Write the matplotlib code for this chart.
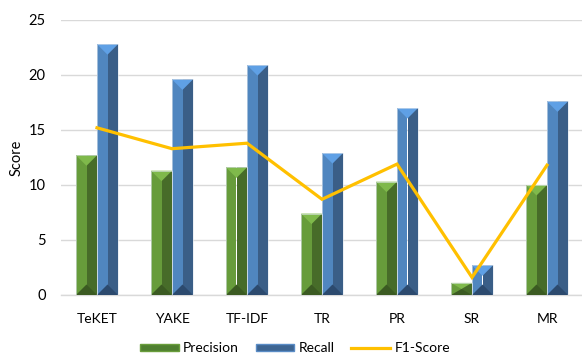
import matplotlib
matplotlib.use("Agg")
import matplotlib.pyplot as plt
from matplotlib.patches import Polygon, Rectangle
from matplotlib.lines import Line2D
import numpy as np

plt.rcParams['font.family'] = ['Lato', 'DejaVu Sans']

methods = ["TeKET", "YAKE", "TF-IDF", "TR", "PR", "SR", "MR"]
precision = [12.7, 11.3, 11.6, 7.4, 10.3, 1.1, 10.0]
recall = [22.8, 19.6, 20.9, 12.9, 17.0, 2.7, 17.6]
f1_score = [15.2, 13.3, 13.8, 8.7, 11.9, 1.6, 11.8]
y_ticks = [0, 5, 10, 15, 20, 25]

W, H = 582, 356
fig = plt.figure(figsize=(W / 100, H / 100), dpi=100)
ax_left, ax_right, ax_bottom, ax_top = 61, 584.5, 295, 20
ax = fig.add_axes([ax_left / W, 1 - ax_bottom / H,
                   (ax_right - ax_left) / W, (ax_bottom - ax_top) / H])

x = np.arange(len(methods))
xmin, xmax = -0.48, len(methods) - 0.5
ax.set_xlim(xmin, xmax)
ax.set_ylim(0, 25)

bw = 0.28
# pixel scales used to give the bevels a 45-degree look
px_per_x = (ax_right - ax_left) / (xmax - xmin)
px_per_y = (ax_bottom - ax_top) / 25.0

styles = {
    "Precision": dict(light="#679c3b", dark="#476c29", top="#7fb94b", bottom="#3b5a22"),
    "Recall": dict(light="#5086bf", dark="#3a5e87", top="#5fa0e5", bottom="#2c4a6e"),
}


def bevel_bars(centers, values, st):
    half = bw / 2
    ax.bar(centers - half / 2, values, width=half, color=st["light"],
           edgecolor="none", zorder=2)
    ax.bar(centers + half / 2, values, width=half, color=st["dark"],
           edgecolor="none", zorder=2)
    depth = half * px_per_x / px_per_y
    for c, v in zip(centers, values):
        d = min(depth, v / 2)
        ax.add_patch(Polygon([[c - half, v], [c + half, v], [c, v - d]],
                             closed=True, facecolor=st["top"], edgecolor="none", zorder=3))
        ax.add_patch(Polygon([[c - half, 0], [c + half, 0], [c, d]],
                             closed=True, facecolor=st["bottom"], edgecolor="none", zorder=3))
        ax.add_patch(Rectangle((c - half, 0), bw, v, facecolor="none",
                               edgecolor="#dfe6ee", linewidth=0.6, alpha=0.7, zorder=3))


bevel_bars(x - bw / 2, precision, styles["Precision"])
bevel_bars(x + bw / 2, recall, styles["Recall"])

ax.plot(x, f1_score, color="#ffc000", linewidth=2.3, zorder=5,
        solid_joinstyle="miter")

ax.set_yticks(y_ticks)
ax.set_yticklabels([str(t) for t in y_ticks])
ax.set_xticks(x)
ax.set_xticklabels(methods)
ax.yaxis.grid(True, color="#d9d9d9", linewidth=1.0, zorder=0)
ax.set_axisbelow(True)
ax.tick_params(axis="both", length=0, labelsize=10, colors="#000000")
ax.tick_params(axis="y", pad=11, labelsize=10.5)
ax.tick_params(axis="x", pad=13)
for side in ["top", "right", "left"]:
    ax.spines[side].set_visible(False)
ax.spines["bottom"].set_color("#d9d9d9")
ax.spines["bottom"].set_linewidth(1.0)
ax.set_ylabel("Score", fontsize=10.5, va="center")
ax.yaxis.set_label_coords(-(ax_left - 17) / (ax_right - ax_left), 0.5)

handles = [
    Rectangle((0, 0), 1, 1, facecolor="#4f7f30", edgecolor="#6a9e3c"),
    Rectangle((0, 0), 1, 1, facecolor="#3d6592", edgecolor="#5a8cc6"),
    Line2D([0], [0], color="#ffc000", linewidth=2.3),
]
fig.legend(handles, ["Precision", "Recall", "F1-Score"], loc="center",
           bbox_to_anchor=(295 / W, 1 - 348.5 / H), ncol=3, frameon=False,
           fontsize=10, handlelength=2.8, handleheight=0.35,
           handletextpad=0.3, columnspacing=1.2)

fig.savefig("out.png", dpi=100)
